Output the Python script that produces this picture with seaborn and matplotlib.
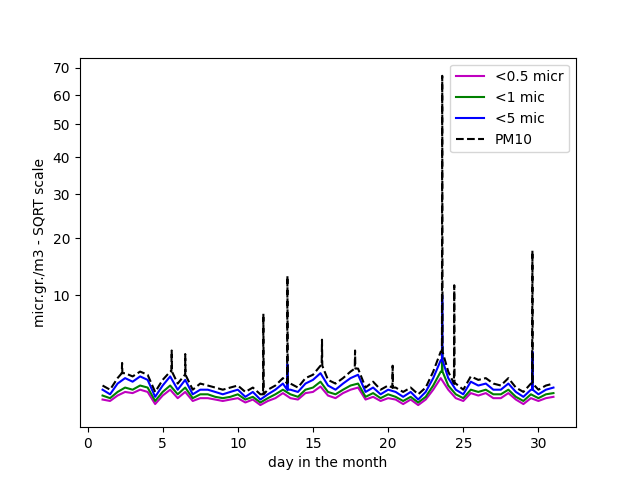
import numpy as np
import pandas as pd
import matplotlib
matplotlib.use("Agg")
import matplotlib.pyplot as plt
import seaborn as sns

# half-day samples, day 1 .. 31
days = [1.0 + 0.5 * i for i in range(61)]

pm10 = [1.2, 1.0, 1.6, 1.9, 1.7, 2.0, 1.8, 0.9, 1.5, 2.0, 1.3, 1.8, 1.0, 1.3, 1.2, 1.1,
        1.0, 1.1, 1.2, 0.9, 1.1, 0.8, 1.0, 1.2, 1.6, 1.3, 1.1, 1.6, 1.8, 2.4, 1.5, 1.3,
        1.6, 2.0, 2.2, 1.1, 1.4, 1.0, 1.2, 1.1, 0.9, 1.1, 0.8, 1.1, 2.0, 3.5, 2.0, 1.3,
        1.0, 1.7, 1.5, 1.6, 1.3, 1.2, 1.6, 1.1, 0.9, 1.3, 1.0, 1.2, 1.3]
pm5 = [1.0, 0.8, 1.3, 1.6, 1.4, 1.7, 1.5, 0.7, 1.2, 1.7, 1.0, 1.5, 0.8, 1.0, 1.0, 0.9,
       0.8, 0.9, 1.0, 0.7, 0.9, 0.6, 0.8, 1.0, 1.3, 1.0, 0.9, 1.3, 1.5, 1.9, 1.2, 1.0,
       1.3, 1.6, 1.8, 0.9, 1.1, 0.8, 1.0, 0.9, 0.7, 0.9, 0.6, 0.9, 1.6, 2.8, 1.6, 1.0,
       0.8, 1.4, 1.2, 1.3, 1.0, 1.0, 1.3, 0.9, 0.7, 1.0, 0.8, 1.0, 1.1]
pm1 = [0.75, 0.65, 0.9, 1.1, 1.0, 1.2, 1.1, 0.55, 0.9, 1.2, 0.8, 1.1, 0.65, 0.8, 0.8, 0.7,
       0.65, 0.7, 0.8, 0.6, 0.7, 0.5, 0.65, 0.8, 1.0, 0.8, 0.7, 1.0, 1.1, 1.4, 0.9, 0.8,
       1.0, 1.2, 1.3, 0.7, 0.85, 0.65, 0.8, 0.7, 0.55, 0.7, 0.5, 0.7, 1.2, 2.0, 1.2, 0.8,
       0.65, 1.0, 0.9, 1.0, 0.8, 0.8, 1.0, 0.7, 0.55, 0.8, 0.65, 0.8, 0.85]
pm05 = [0.6, 0.55, 0.75, 0.9, 0.85, 1.0, 0.9, 0.45, 0.75, 1.0, 0.65, 0.9, 0.55, 0.65, 0.65, 0.6,
        0.55, 0.6, 0.65, 0.5, 0.6, 0.42, 0.55, 0.65, 0.85, 0.65, 0.6, 0.85, 0.9, 1.15, 0.75, 0.65,
        0.85, 1.0, 1.1, 0.6, 0.7, 0.55, 0.65, 0.6, 0.45, 0.6, 0.42, 0.6, 1.0, 1.6, 1.0, 0.65,
        0.55, 0.85, 0.75, 0.85, 0.65, 0.65, 0.85, 0.6, 0.45, 0.65, 0.55, 0.65, 0.7]

# short spikes
pm10_spike_days = [2.3, 5.6, 6.5, 11.7, 13.3, 15.6, 17.8, 20.3, 23.6, 24.4, 29.6]
pm10_spike_vals = [2.6, 3.6, 3.3, 7.5, 13.0, 4.6, 3.6, 2.4, 67.0, 11.5, 17.5]
pm5_spike_days = [13.3, 23.6, 29.6]
pm5_spike_vals = [2.5, 10.0, 3.5]
pm1_spike_days = [23.6]
pm1_spike_vals = [4.0]


def with_spikes(base, sdays, svals):
    xs = list(days)
    ys = list(base)
    for d, v in zip(sdays, svals):
        xs += [d - 0.02, d, d + 0.02]
        i = int(round((d - 1.0) / 0.5))
        ys += [base[i], v, base[i]]
    df = pd.DataFrame({"day": xs, "val": ys}).sort_values("day")
    return df


fig, ax = plt.subplots(figsize=(6.4, 4.8), dpi=100)
sns.lineplot(data=with_spikes(pm05, [], []), x="day", y="val", color="m", label="<0.5 micr", ax=ax, estimator=None)
sns.lineplot(data=with_spikes(pm1, pm1_spike_days, pm1_spike_vals), x="day", y="val", color="g", label="<1 mic", ax=ax, estimator=None)
sns.lineplot(data=with_spikes(pm5, pm5_spike_days, pm5_spike_vals), x="day", y="val", color="b", label="<5 mic", ax=ax, estimator=None)
sns.lineplot(data=with_spikes(pm10, pm10_spike_days, pm10_spike_vals), x="day", y="val", color="k", linestyle="--", label="PM10", ax=ax, estimator=None)

ax.set_yscale("function", functions=(lambda v: np.sqrt(np.clip(v, 0, None)), lambda v: v ** 2))
ax.set_yticks([10, 20, 30, 40, 50, 60, 70])
ax.set_ylim(0.02, 74)
ax.set_xlim(-0.5, 32.5)
ax.set_xticks([0, 5, 10, 15, 20, 25, 30])
ax.set_xlabel("day in the month")
ax.set_ylabel("micr.gr./m3 - SQRT scale")
ax.legend(loc="upper right")
plt.savefig("out.png", dpi=100)
